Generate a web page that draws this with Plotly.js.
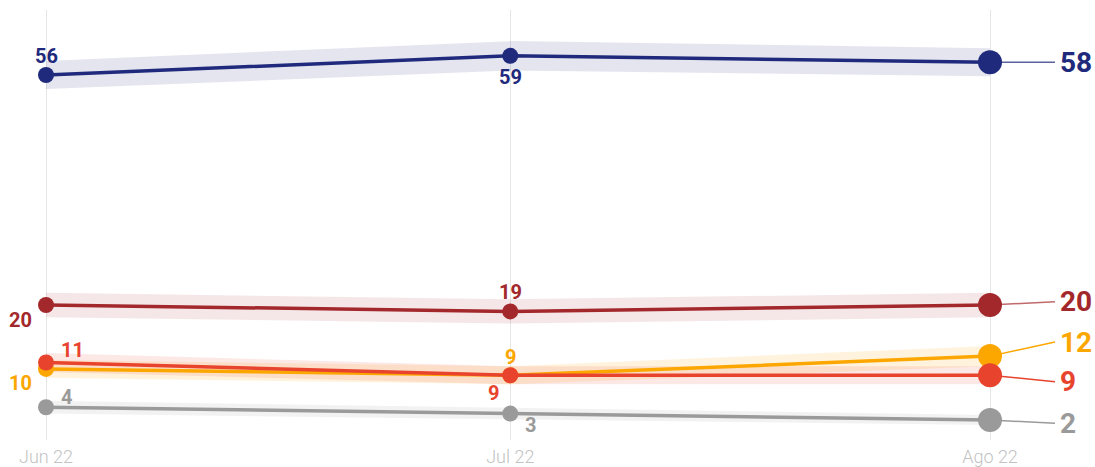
<!DOCTYPE html>
<html>
<head>
<meta charset="utf-8">
<script src="https://cdn.plot.ly/plotly-3.0.1.min.js"></script>
<style>html,body{margin:0;padding:0;background:#fff;}#chart{width:1095px;height:467px;}</style>
</head>
<body>
<div id="chart"></div>
<script>
// ---- data ----
const dates = ['2022-06-01', '2022-07-01', '2022-08-01'];
const tickLabels = ['Jun 22', 'Jul 22', 'Ago 22'];
const seriesNames = ['Azul', 'Granate', 'Naranja', 'Rojo', 'Gris'];
const azul = [56, 59, 58];
const granate = [20, 19, 20];
const naranja = [10, 9, 12];
const rojo = [11, 9, 9];
const gris = [4, 3, 2];
// margin of error (half-width of shaded band)
const azulErr = [2.2, 2.3, 2.2];
const granateErr = [1.9, 1.9, 1.9];
const naranjaErr = [1.4, 1.4, 1.6];
const rojoErr = [1.5, 1.4, 1.4];
const grisErr = [1.0, 0.9, 0.8];

// ---- styling ----
const styles = [
  {vals: azul, err: azulErr, color: '#1f2a7c', band: 'rgba(31,42,124,0.12)', conn: '#5a62a0',
   labelY: 58, offs: [[0, 19], [0, -21]]},
  {vals: granate, err: granateErr, color: '#a3282b', band: 'rgba(163,40,43,0.11)', conn: '#c06a6c',
   labelY: 20.5, offs: [[-26, -15], [0, 19]]},
  {vals: naranja, err: naranjaErr, color: '#fca600', band: 'rgba(252,166,0,0.13)', conn: '#fca600',
   labelY: 14.2, offs: [[-26, -14], [0, 18]]},
  {vals: rojo, err: rojoErr, color: '#e8432d', band: 'rgba(232,67,45,0.12)', conn: '#e8432d',
   labelY: 8.0, offs: [[26, 13], [-17, -18]]},
  {vals: gris, err: grisErr, color: '#9a9a9a', band: 'rgba(150,150,150,0.12)', conn: '#9a9a9a',
   labelY: 1.5, offs: [[20, 10], [20, -11]]}
];

const traces = [];
const annotations = [];
const shapes = [];
const drawOrder = [4, 0, 1, 2, 3];

// paper positions (plot spans x=40..996 px)
const connStart = (990 - 40) / 956;
const connEnd = (1055 - 40) / 956;
const labelX = (1058 - 40) / 956;

drawOrder.forEach(i => {
  const s = styles[i];
  const up = s.vals.map((v, k) => v + s.err[k]);
  const lo = s.vals.map((v, k) => v - s.err[k]);
  traces.push({
    x: dates.concat(dates.slice().reverse()),
    y: up.concat(lo.slice().reverse()),
    type: 'scatter', mode: 'lines', fill: 'toself', fillcolor: s.band,
    line: {width: 0}, hoverinfo: 'skip', showlegend: false
  });
});
drawOrder.forEach(i => {
  const s = styles[i];
  traces.push({
    x: dates, y: s.vals, name: seriesNames[i],
    type: 'scatter', mode: 'lines+markers', cliponaxis: false,
    line: {color: s.color, width: 3.5},
    marker: {color: s.color, size: [16, 16, 24], opacity: 1, line: {width: 0}},
    opacity: 1,
    showlegend: false
  });
  for (let k = 0; k < 2; k++) {
    annotations.push({
      x: dates[k], y: s.vals[k], xref: 'x', yref: 'y', text: String(s.vals[k]),
      showarrow: false, xshift: s.offs[k][0], yshift: s.offs[k][1],
      font: {family: 'Roboto, sans-serif', size: 20, color: s.color, weight: 700}
    });
  }
  annotations.push({
    x: labelX, y: s.labelY, xref: 'paper', yref: 'y', xanchor: 'left', text: String(s.vals[2]),
    showarrow: false,
    font: {family: 'Roboto, sans-serif', size: 28, color: s.color, weight: 700}
  });
  shapes.push({
    type: 'line', xref: 'paper', yref: 'y', x0: connStart, x1: connEnd, y0: s.vals[2], y1: s.labelY,
    line: {color: s.conn, width: 1.5}, layer: 'below'
  });
});

const layout = {
  width: 1095, height: 467,
  margin: {l: 40, r: 99, t: 10, b: 27},
  paper_bgcolor: '#fff', plot_bgcolor: '#fff',
  showlegend: false,
  xaxis: {
    type: 'date', range: ['2022-05-31 14:42', '2022-08-01 09:18'],
    tickvals: dates, ticktext: tickLabels,
    showgrid: true, gridcolor: '#e6e6e6', gridwidth: 1,
    zeroline: false, showline: false, ticks: '', ticklabelstandoff: 4,
    tickfont: {family: 'Roboto, sans-serif', size: 18, color: '#c2c2c2', weight: 300},
    fixedrange: true
  },
  yaxis: {
    range: [-1.13, 66.17], visible: false, showgrid: false, zeroline: false, fixedrange: true
  },
  annotations: annotations,
  shapes: shapes
};

Plotly.newPlot('chart', traces, layout, {displayModeBar: false, staticPlot: true});
</script>
</body>
</html>
